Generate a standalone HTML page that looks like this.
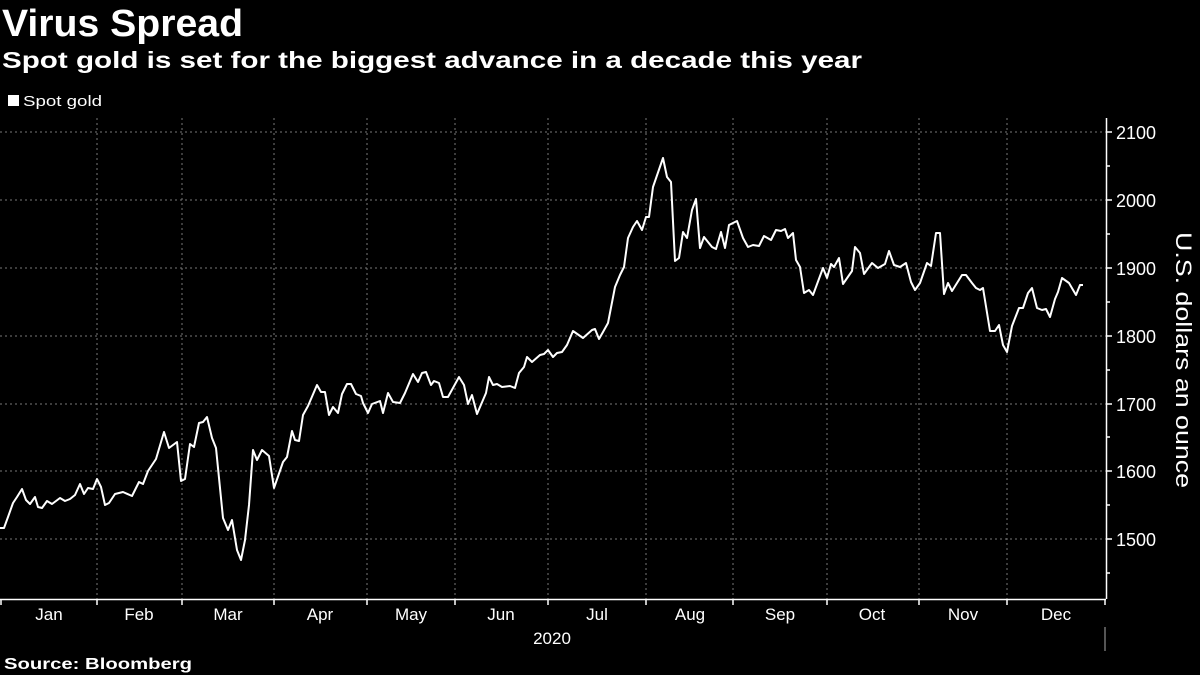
<!DOCTYPE html>
<html><head><meta charset="utf-8"><style>
html,body{margin:0;padding:0;background:#000;}
svg{display:block;}
text{font-family:"Liberation Sans",sans-serif;fill:#fff;}
</style></head><body>
<svg width="1200" height="675" viewBox="0 0 1200 675" xmlns="http://www.w3.org/2000/svg">
<rect width="1200" height="675" fill="#000"/>
<text x="2" y="36" font-size="38" font-weight="bold" textLength="241" lengthAdjust="spacingAndGlyphs">Virus Spread</text>
<text x="2" y="68" font-size="23" font-weight="bold" font-family="Liberation Mono, monospace" textLength="860" lengthAdjust="spacingAndGlyphs">Spot gold is set for the biggest advance in a decade this year</text>
<rect x="8" y="95" width="11" height="11" fill="#fff"/>
<text x="23" y="106" font-size="15" textLength="79" lengthAdjust="spacingAndGlyphs">Spot gold</text>
<g stroke="#777" stroke-width="1" stroke-dasharray="2,3">
<line x1="0" y1="132" x2="1106" y2="132"/>
<line x1="0" y1="200" x2="1106" y2="200"/>
<line x1="0" y1="268" x2="1106" y2="268"/>
<line x1="0" y1="336" x2="1106" y2="336"/>
<line x1="0" y1="404" x2="1106" y2="404"/>
<line x1="0" y1="471" x2="1106" y2="471"/>
<line x1="0" y1="539" x2="1106" y2="539"/>
<line x1="97" y1="118" x2="97" y2="599"/>
<line x1="182" y1="118" x2="182" y2="599"/>
<line x1="274" y1="118" x2="274" y2="599"/>
<line x1="367" y1="118" x2="367" y2="599"/>
<line x1="455" y1="118" x2="455" y2="599"/>
<line x1="548" y1="118" x2="548" y2="599"/>
<line x1="646" y1="118" x2="646" y2="599"/>
<line x1="733" y1="118" x2="733" y2="599"/>
<line x1="827" y1="118" x2="827" y2="599"/>
<line x1="919" y1="118" x2="919" y2="599"/>
<line x1="1007" y1="118" x2="1007" y2="599"/>
</g>
<g stroke="#fff" stroke-width="1.5">
<line x1="0" y1="599.5" x2="1106" y2="599.5"/>
<line x1="1106.5" y1="118" x2="1106.5" y2="599"/>
<line x1="1106" y1="132" x2="1112" y2="132"/><line x1="1106" y1="166" x2="1110" y2="166"/>
<line x1="1106" y1="200" x2="1112" y2="200"/><line x1="1106" y1="234" x2="1110" y2="234"/>
<line x1="1106" y1="268" x2="1112" y2="268"/><line x1="1106" y1="302" x2="1110" y2="302"/>
<line x1="1106" y1="336" x2="1112" y2="336"/><line x1="1106" y1="370" x2="1110" y2="370"/>
<line x1="1106" y1="404" x2="1112" y2="404"/><line x1="1106" y1="437" x2="1110" y2="437"/>
<line x1="1106" y1="471" x2="1112" y2="471"/><line x1="1106" y1="505" x2="1110" y2="505"/>
<line x1="1106" y1="539" x2="1112" y2="539"/><line x1="1106" y1="573" x2="1110" y2="573"/>
<line x1="1" y1="599" x2="1" y2="605"/><line x1="97" y1="599" x2="97" y2="605"/><line x1="182" y1="599" x2="182" y2="605"/>
<line x1="274" y1="599" x2="274" y2="605"/><line x1="367" y1="599" x2="367" y2="605"/><line x1="455" y1="599" x2="455" y2="605"/>
<line x1="548" y1="599" x2="548" y2="605"/><line x1="646" y1="599" x2="646" y2="605"/><line x1="733" y1="599" x2="733" y2="605"/>
<line x1="827" y1="599" x2="827" y2="605"/><line x1="919" y1="599" x2="919" y2="605"/><line x1="1007" y1="599" x2="1007" y2="605"/>
<line x1="1105" y1="599" x2="1105" y2="605"/>
</g>
<line x1="1105" y1="627" x2="1105" y2="651" stroke="#aaa" stroke-width="1"/>
<g font-size="18">
<text x="1116" y="139">2100</text><text x="1116" y="207">2000</text><text x="1116" y="275">1900</text>
<text x="1116" y="343">1800</text><text x="1116" y="411">1700</text><text x="1116" y="478">1600</text>
<text x="1116" y="546">1500</text>
</g>
<text transform="translate(1176,232) rotate(90)" font-size="22" textLength="256" lengthAdjust="spacingAndGlyphs">U.S. dollars an ounce</text>
<g font-size="17" text-anchor="middle">
<text x="49" y="620">Jan</text><text x="139" y="620">Feb</text><text x="228" y="620">Mar</text>
<text x="320" y="620">Apr</text><text x="411" y="620">May</text><text x="501" y="620">Jun</text>
<text x="597" y="620">Jul</text><text x="690" y="620">Aug</text><text x="780" y="620">Sep</text>
<text x="872" y="620">Oct</text><text x="963" y="620">Nov</text><text x="1056" y="620">Dec</text>
<text x="552" y="644">2020</text>
</g>
<text x="4" y="669" font-size="16" font-weight="bold" font-family="Liberation Mono, monospace" textLength="188" lengthAdjust="spacingAndGlyphs">Source: Bloomberg</text>
<polyline fill="none" stroke="#fff" stroke-width="2" stroke-linejoin="round" points="
0,528 4,528 8,517 13,503 17,497 22,489 26,500 30,504 35,497 38,507 42,508 47,501 52,504 60,498 65,501 70,499 75,495 80,484 84,494 88,488 93,489 97,479 101,487 105,505 109,503 115,494 123,492 132,496 139,482 143,484 148,471 156,459 164,432 169,448 177,442 181,481 185,479 190,444 194,447 199,423 203,422 207,417 212,438 216,448 223,518 228,530 232,520 237,550 241,560 245,540 249,505 253,450 257,460 262,450 269,456 274,488 283,462 287,457 292,431 295,440 299,441 303,415 308,406 317,385 321,392 325,392 329,415 333,407 338,413 342,394 347,384 351,384 356,394 361,396 363,403 368,413 372,404 380,401 383,413 388,393 393,402 400,403
405,393 413,374 418,382 422,373 426,372 431,385 434,381 439,383 443,397 448,397 459,377 464,385 468,404 472,395 477,414 486,393 489,377 493,385 497,384 502,387 510,386 515,388 519,373 524,367 527,357 532,362 540,355 544,354 548,350 553,357 557,353 562,352 567,345 573,331 583,338 592,330 595,329 599,339 603,332 608,323 615,287 620,275 624,267 628,238 633,227 637,221 642,230 646,217 649,217 653,187 663,158 667,177 671,182 675,261 679,258 683,232 687,238 692,210 696,199 700,248 704,237 712,247 716,249 721,232 725,248 729,225 737,221 743,238 748,247 753,245 759,246 764,236 771,240 776,230 781,231 785,229 788,238 793,233 796,260 800,267
804,293 809,290 813,295 823,268 827,278 831,264 834,267 839,258 843,284 852,271 855,247 860,253 864,274 872,263 878,268 885,264 889,251 894,265 900,267 906,263 911,282 915,290 920,283 927,263 931,266 936,233 940,233 944,294 948,283 952,291 962,275 966,275 972,283 976,288 980,290 983,288 990,331 995,331 999,325 1003,345 1007,352 1012,326 1019,308 1023,308 1028,293 1032,288 1037,308 1042,310 1046,309 1050,317 1055,299 1058,292 1062,278 1069,283 1076,295 1080,285 1083,285"/>
</svg>
</body></html>
